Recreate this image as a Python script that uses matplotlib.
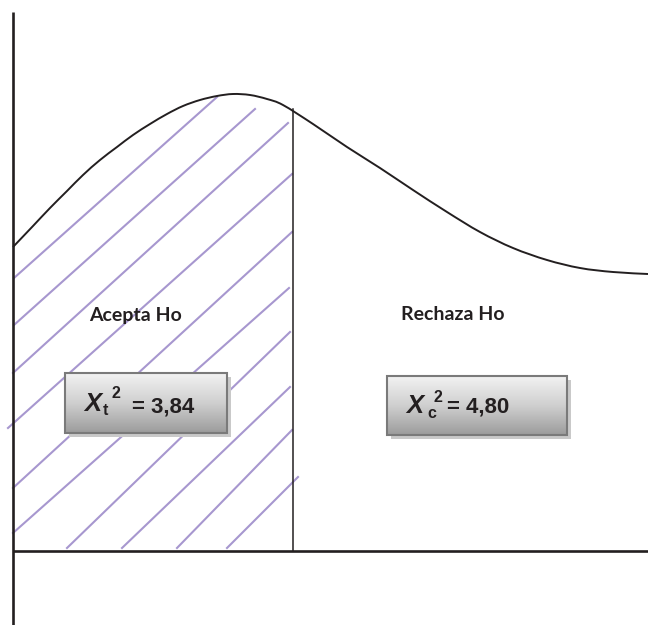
import numpy as np
import matplotlib
matplotlib.use("Agg")
import matplotlib.pyplot as plt
from matplotlib.patches import Rectangle, PathPatch
from matplotlib.path import Path
from matplotlib.colors import LinearSegmentedColormap

# curve (units: distance from the axes corner)
curve_x = [0, 20, 37, 54, 70, 87, 104, 120, 137, 154, 170, 187, 204, 220,
           237, 254, 270, 300, 334, 367, 400, 434, 467, 500, 534, 567, 600, 635]
curve_y = [304, 325, 343, 360, 376, 391, 404, 416, 427, 437, 445, 451, 455, 457,
           456, 452, 446, 427, 404, 383, 361, 339, 319, 303, 291, 283, 279, 277]

# critical value line
crit_x = 280
crit_top = 442

# hand drawn hatch strokes in the acceptance region
hatch_x0 = [1, 1, 0, -5, 0, 0, 54, 109, 164, 214]
hatch_y0 = [273, 226, 178, 123, 63, 18, 3, 3, 3, 3]
hatch_x1 = [204, 242, 275, 279, 279, 276, 277, 277, 279, 285]
hatch_y1 = [454, 442, 428, 377, 319, 263, 219, 164, 121, 74]

region_labels = ["Acepta Ho", "Rechaza Ho"]
region_label_x = [122, 440]
region_label_y = [236, 236]

# boxes: x0, x1, y0, y1
boxes = [(52, 214, 118, 178), (374, 554, 116, 175)]
box_subs = ["t", "c"]
box_values = ["= 3,84", "= 4,80"]

ink = "#231f20"
hatch_col = "#a797cf"


def smooth_path(xs, ys):
    # draw the read points as one smooth bezier stroke (catmull-rom handles)
    pts = np.column_stack([xs, ys]).astype(float)
    verts = [pts[0]]
    codes = [Path.MOVETO]
    n = len(pts)
    for i in range(n - 1):
        p0 = pts[max(i - 1, 0)]
        p1 = pts[i]
        p2 = pts[i + 1]
        p3 = pts[min(i + 2, n - 1)]
        c1 = p1 + (p2 - p0) / 6.0
        c2 = p2 - (p3 - p1) / 6.0
        verts += [c1, c2, p2]
        codes += [Path.CURVE4] * 3
    return Path(verts, codes)


fig = plt.figure(figsize=(6.48, 6.25), dpi=100)
ax = fig.add_axes([0, 0, 1, 1])
ax.axis("off")

# axes lines
ax.plot([0, 0], [-74, 539], color=ink, lw=1.9, solid_capstyle="butt", zorder=5)
ax.plot([0, 635], [0, 0], color=ink, lw=1.9, solid_capstyle="butt", zorder=5)

# hatch
for xa, ya, xb, yb in zip(hatch_x0, hatch_y0, hatch_x1, hatch_y1):
    ax.plot([xa, xb], [ya, yb], color=hatch_col, lw=1.5, zorder=1)

# curve and critical line
ax.add_patch(PathPatch(smooth_path(curve_x, curve_y), facecolor="none",
                       edgecolor=ink, lw=1.4, zorder=4))
ax.plot([crit_x, crit_x], [0, crit_top], color=ink, lw=1.1, zorder=4)

# region labels
for lab, lx, ly in zip(region_labels, region_label_x, region_label_y):
    ax.text(lx, ly, lab, ha="center", va="center", fontsize=14,
            fontweight="bold", family="Lato", color=ink, zorder=6)

# gradient boxes
cmap = LinearSegmentedColormap.from_list("boxgrad", ["#f2f2f2", "#cfcfcf", "#9c9c9c"])
grad = np.linspace(0, 1, 100).reshape(-1, 1)
for (x0, x1, y0, y1) in boxes:
    ax.add_patch(Rectangle((x0 + 4, y0 - 4), x1 - x0, y1 - y0,
                           facecolor="#c9c9c9", edgecolor="none", zorder=2))
    ax.imshow(grad, extent=(x0, x1, y0, y1), cmap=cmap, aspect="auto",
              origin="upper", zorder=3)
    ax.add_patch(Rectangle((x0, y0), x1 - x0, y1 - y0, facecolor="none",
                           edgecolor="#7a7a7a", lw=1.5, zorder=3.5))

# box texts (X_sub^2 = value)
txt_font = "Liberation Sans"
X_x = [71, 393]
X_y = [140, 138]
sub_x = [90, 414]
sub_y = [136, 133]
sup_x = [99, 420]
sup_y = [153, 149]
val_x = [119, 434]
val_y = [139, 138]
for i in range(2):
    ax.text(X_x[i], X_y[i], "X", fontsize=18.5, fontweight="bold", style="italic",
            family=txt_font, color=ink, va="baseline", ha="left", zorder=6)
    ax.text(sub_x[i], sub_y[i], box_subs[i], fontsize=11.5, fontweight="bold",
            family=txt_font, color=ink, va="baseline", ha="left", zorder=6)
    ax.text(sup_x[i], sup_y[i], "2", fontsize=11.5, fontweight="bold",
            family=txt_font, color=ink, va="baseline", ha="left", zorder=6)
    ax.text(val_x[i], val_y[i], box_values[i], fontsize=16, fontweight="bold",
            family=txt_font, color=ink, va="baseline", ha="left", zorder=6)

ax.set_xlim(-13, 635)
ax.set_ylim(-74, 551)

fig.savefig("out.png", dpi=100)
